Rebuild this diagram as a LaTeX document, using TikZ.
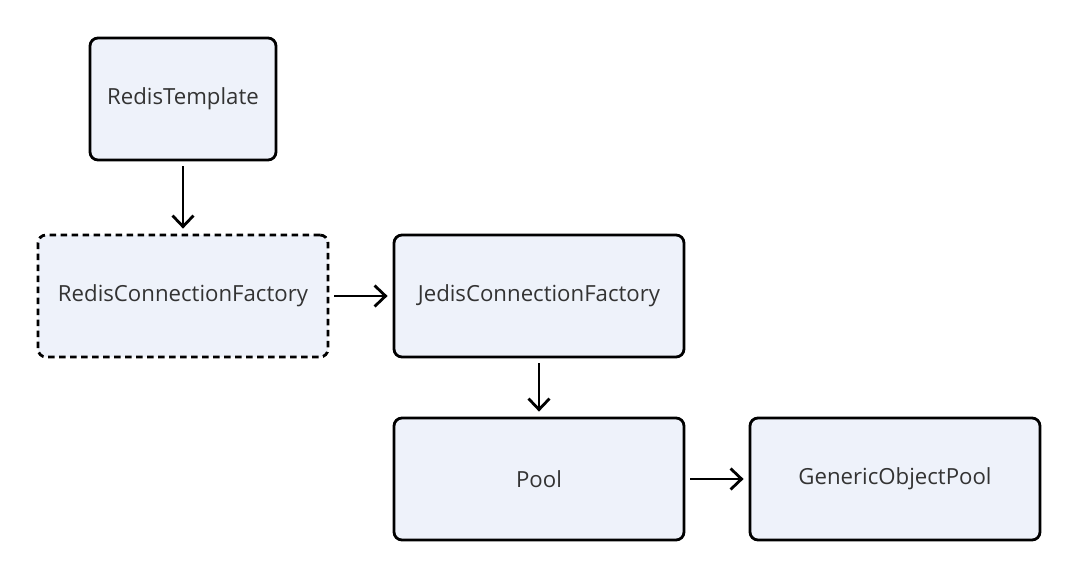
\documentclass[tikz,border=0pt]{standalone}
\usepackage{fontspec}
\setmainfont{Open Sans}
\usetikzlibrary{arrows.meta}
\definecolor{boxfill}{HTML}{EEF2FA}
\definecolor{txt}{HTML}{333333}
\begin{document}
\begin{tikzpicture}[x=1pt,y=-1pt,
  box/.style={draw=black,line width=2.8pt,rounded corners=8pt,fill=boxfill,
    minimum width=290pt,minimum height=122pt,inner sep=0pt,
    font=\fontsize{22.2}{26}\selectfont,text=txt},
  dbox/.style={box,dash pattern=on 6.5pt off 4.5pt},
  conn/.style={line width=2.8pt,-{Straight Barb[length=11pt,width=21pt,line width=2.8pt]},shorten >=5pt,shorten <=5pt}]
\useasboundingbox[fill=white] (0,0) rectangle (1080,581);
\node[box,minimum width=186pt] (rt) at (183,99) {RedisTemplate};
\node[dbox] (rcf) at (183,296) {RedisConnectionFactory};
\node[box] (jcf) at (539,296) {JedisConnectionFactory};
\node[box] (pool) at (539,479) {Pool};
\node[box] (gop) at (895,479) {GenericObjectPool};
\draw[conn] (rt) -- (rcf);
\draw[conn] (rcf) -- (jcf);
\draw[conn] (jcf) -- (pool);
\draw[conn] (pool) -- (gop);
\end{tikzpicture}
\end{document}
